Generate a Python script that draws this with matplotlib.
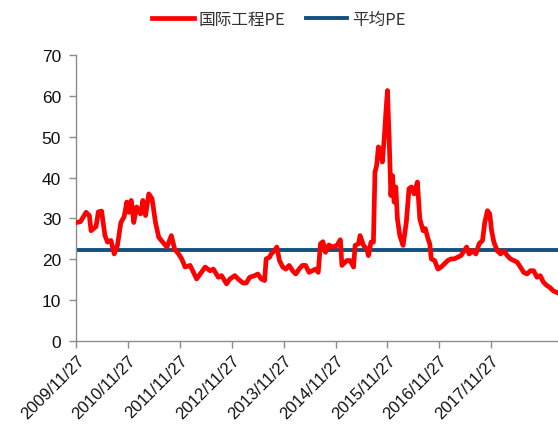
import pandas as pd
import matplotlib
matplotlib.use("Agg")
import matplotlib.pyplot as plt

plt.rcParams['font.family'] = ['Liberation Sans', 'Noto Sans CJK SC', 'DejaVu Sans']

# 国际工程PE
dates = [
    "2009-11-27", "2009-12-25", "2010-02-03", "2010-02-26", "2010-03-10", "2010-04-14", "2010-04-30",
    "2010-05-23", "2010-06-16", "2010-07-04", "2010-07-28", "2010-08-20", "2010-09-12",
    "2010-10-06", "2010-10-29", "2010-11-17",
    "2010-12-02", "2010-12-18", "2011-01-05", "2011-01-25", "2011-02-22", "2011-03-10",
    "2011-03-29", "2011-04-21", "2011-05-14", "2011-06-07", "2011-06-30", "2011-07-23",
    "2011-08-27", "2011-09-27", "2011-10-20", "2011-11-17",
    "2011-12-09", "2012-01-02", "2012-02-06", "2012-03-23", "2012-04-17", "2012-05-22",
    "2012-06-26", "2012-07-19", "2012-08-23", "2012-09-15", "2012-10-20", "2012-11-13",
    "2012-12-17", "2013-01-09", "2013-02-13", "2013-03-08", "2013-04-01", "2013-05-06",
    "2013-05-29", "2013-06-21", "2013-07-15", "2013-07-26", "2013-08-19", "2013-08-30",
    "2013-09-23", "2013-10-09", "2013-10-28", "2013-11-20",
    "2013-12-12", "2014-01-04", "2014-01-28", "2014-02-20", "2014-03-15", "2014-04-07",
    "2014-04-30", "2014-05-24", "2014-06-16", "2014-07-09", "2014-07-28", "2014-08-13",
    "2014-08-30", "2014-09-17", "2014-10-11", "2014-11-03",
    "2014-12-07", "2014-12-31", "2015-01-11", "2015-02-15", "2015-03-10", "2015-04-03",
    "2015-04-14", "2015-05-08", "2015-05-19", "2015-06-12", "2015-07-05", "2015-07-17",
    "2015-08-04", "2015-08-21", "2015-09-01", "2015-09-13", "2015-09-25", "2015-10-13",
    "2015-10-23", "2015-11-06", "2015-11-17",
    "2015-11-28", "2015-12-10", "2015-12-22", "2016-01-02", "2016-01-14", "2016-01-26",
    "2016-02-06", "2016-02-23", "2016-03-17", "2016-04-09", "2016-04-28", "2016-05-15",
    "2016-06-03", "2016-06-26", "2016-07-13", "2016-08-05", "2016-08-21", "2016-09-09",
    "2016-09-21", "2016-10-02", "2016-10-25", "2016-11-18",
    "2016-12-10", "2017-01-02", "2017-01-26", "2017-02-18", "2017-03-13", "2017-04-06",
    "2017-04-29", "2017-05-22", "2017-06-08", "2017-06-26", "2017-07-20", "2017-08-12",
    "2017-09-04", "2017-09-28", "2017-10-14", "2017-11-02", "2017-11-18",
    "2017-12-01", "2017-12-17", "2018-01-10", "2018-02-02", "2018-02-25", "2018-03-21",
    "2018-04-13", "2018-05-06", "2018-05-30", "2018-06-22", "2018-07-15", "2018-08-08",
    "2018-08-31", "2018-09-23", "2018-10-17", "2018-11-09",
    "2018-12-01", "2018-12-25", "2019-01-16", "2019-02-08", "2019-03-05",
]
pe = [
    29.0, 29.2, 31.5, 30.7, 27.0, 28.0, 31.6,
    31.8, 25.8, 24.2, 24.6, 21.3, 23.4,
    29.0, 30.4, 34.0,
    31.5, 34.4, 29.0, 32.8, 31.1, 34.4,
    30.7, 36.0, 34.8, 29.0, 25.4, 24.4,
    23.0, 25.8, 22.5, 21.3,
    20.1, 18.1, 18.5, 15.2, 16.4, 18.1,
    17.2, 17.6, 15.6, 16.0, 14.0, 15.2,
    16.0, 15.2, 14.2, 14.2, 15.6, 16.0,
    16.4, 15.2, 14.8, 20.1, 20.5, 21.3,
    22.1, 23.0, 19.7, 18.1,
    17.6, 18.5, 17.2, 16.4, 17.6, 18.5,
    18.5, 16.8, 17.2, 17.6, 16.8, 23.8,
    24.3, 21.7, 23.5, 23.0,
    23.4, 24.8, 18.5, 19.7, 19.7, 18.1,
    23.4, 23.8, 25.8, 23.4, 22.5, 20.9,
    24.2, 24.2, 41.3, 43.0, 47.5, 46.6,
    43.8, 49.9, 56.0,
    61.3, 49.5, 35.6, 40.5, 34.0, 37.7,
    29.9, 25.8, 23.4, 29.1, 37.3, 37.7,
    36.0, 38.9, 29.9, 27.0, 27.5, 25.0,
    23.8, 20.1, 19.7, 17.6,
    18.1, 18.9, 19.7, 20.1, 20.1, 20.5,
    20.9, 22.1, 23.0, 21.3, 22.1, 21.3,
    23.8, 24.6, 29.1, 31.9, 31.1,
    27.0, 24.2, 22.1, 21.3, 22.1, 20.9,
    20.1, 19.7, 19.3, 18.1, 16.8, 16.4,
    17.2, 17.2, 15.6, 16.0,
    14.4, 13.6, 13.1, 12.3, 11.9,
]
avg_pe = 22.3
tick_dates = ["2009-11-27", "2010-11-27", "2011-11-27", "2012-11-27", "2013-11-27",
              "2014-11-27", "2015-11-27", "2016-11-27", "2017-11-27"]

x = pd.to_datetime(dates)
ticks = pd.to_datetime(tick_dates)

fig = plt.figure(figsize=(5.58, 4.27), dpi=100)
ax = fig.add_axes([0.137, 0.199, 0.863, 0.67])

ax.plot(x, pe, color='#ff0000', lw=3.4, solid_joinstyle='round', label='国际工程PE', zorder=3)
ax.axhline(avg_pe, color='#0f5282', lw=2.8, label='平均PE', zorder=2)

ax.set_xlim(pd.Timestamp("2009-11-27"), pd.Timestamp("2019-03-14"))
ax.set_ylim(0, 70)
ax.set_yticks(range(0, 71, 10))
ax.set_xticks(ticks)
ax.set_xticklabels([d.strftime('%Y/%m/%d') for d in ticks], rotation=45, ha='right',
                   rotation_mode='anchor')

for s in ['top', 'right']:
    ax.spines[s].set_visible(False)
for s in ['left', 'bottom']:
    ax.spines[s].set_color('#8c8c8c')
    ax.spines[s].set_linewidth(1.0)
ax.tick_params(axis='both', colors='#8c8c8c', length=5, width=1.0,
               labelcolor='#111111', direction='out')
ax.tick_params(axis='y', labelsize=12.5, pad=6)
ax.tick_params(axis='x', labelsize=12, pad=3)

leg = fig.legend(loc='center', bbox_to_anchor=(0.5, 0.952), ncol=2, frameon=False,
                 prop={'family': ['Noto Sans CJK SC', 'DejaVu Sans'], 'size': 12},
                 handlelength=2.5, columnspacing=1.2, handletextpad=0.3)
for t in leg.get_texts():
    t.set_color('#333333')

fig.savefig('out.png', dpi=100)
